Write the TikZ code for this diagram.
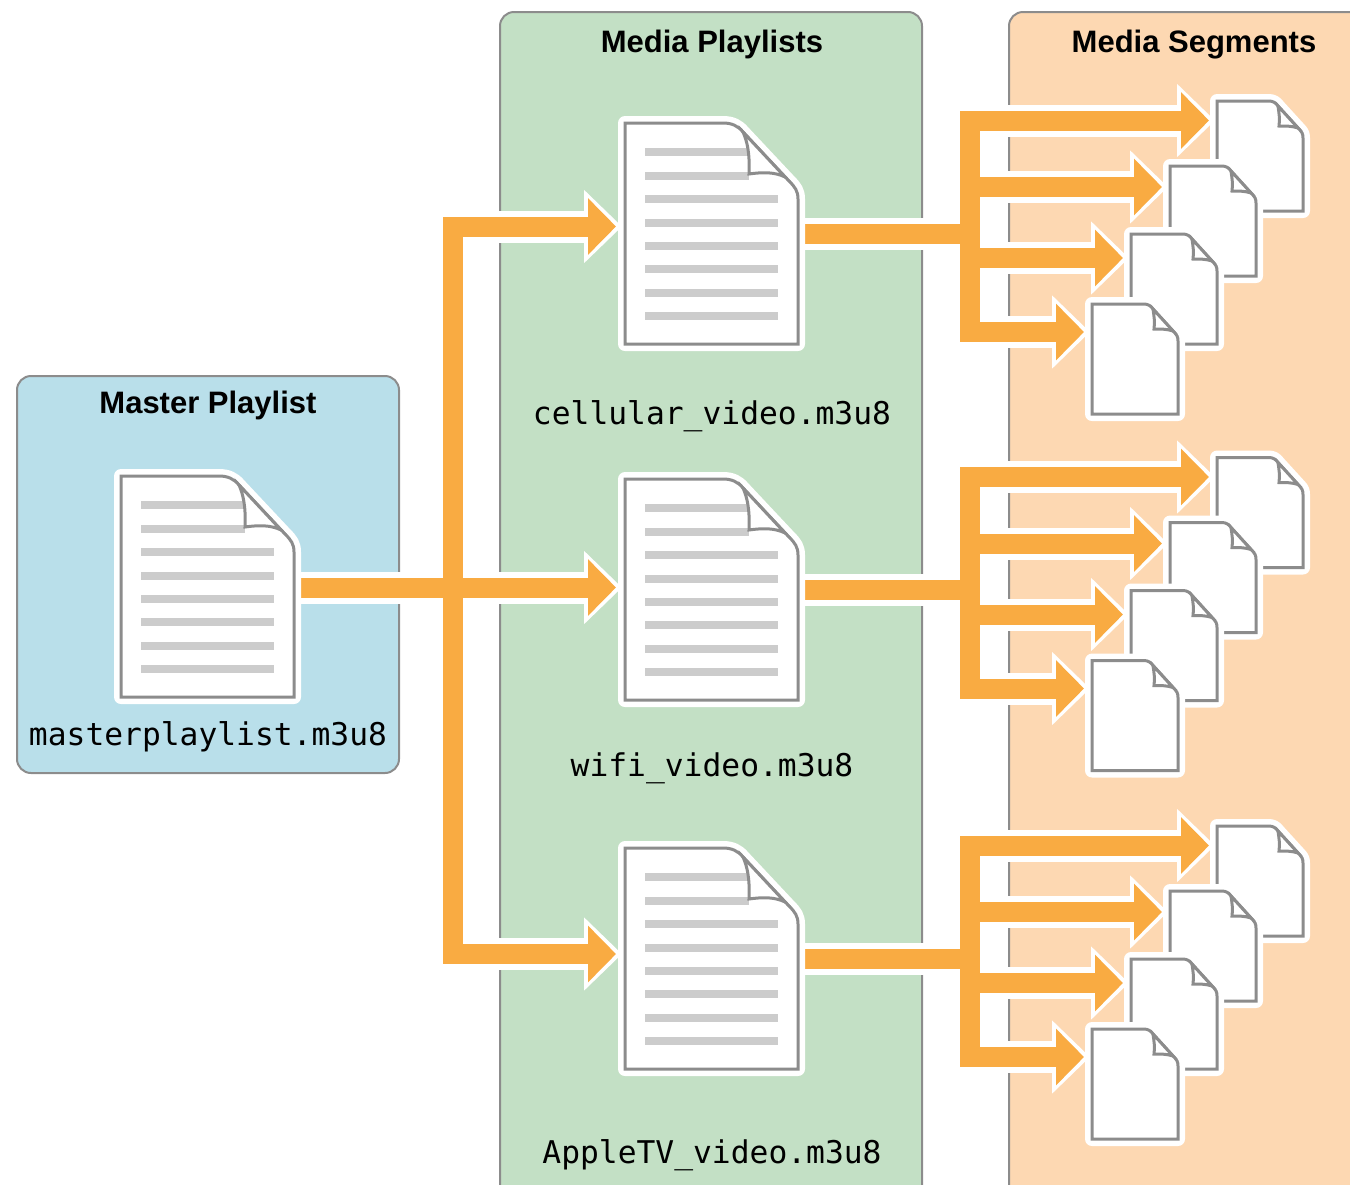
\documentclass[tikz,border=0pt]{standalone}
\usepackage{fontspec}
\setmainfont{Liberation Sans}
\setmonofont{DejaVu Sans Mono}
\usetikzlibrary{arrows.meta}

\definecolor{bluepanel}{HTML}{B9DFEA}
\definecolor{greenpanel}{HTML}{C3E0C5}
\definecolor{orangepanel}{HTML}{FDD8B2}
\definecolor{pipeorange}{HTML}{F9AB42}
\definecolor{edgegray}{HTML}{8C8C8C}
\definecolor{linegray}{HTML}{CCCCCC}

\tikzset{
	panel/.style={draw=edgegray, line width=2pt, rounded corners=14pt},
	title/.style={font=\fontsize{31}{31}\selectfont\bfseries},
	filename/.style={font=\fontsize{31.3}{31.3}\selectfont\ttfamily},
	bigdoc/.style={minimum width=173pt, minimum height=221pt, inner sep=0pt, outer sep=0pt},
	smalldoc/.style={anchor=north west, minimum width=86pt, minimum height=110pt, inner sep=0pt, outer sep=0pt},
	pipe/.style={draw=pipeorange, line width=20pt, line join=miter},
	halo/.style={draw=white, line width=32pt, line join=miter},
	pipetip/.style={pipe, -{Triangle[length=28pt,width=55pt,fill=pipeorange]}},
	halotip/.style={halo, -{Triangle[length=38pt,width=71pt,fill=white]}, shorten >=-6pt},
	sheet/.style={fill=white, draw=edgegray, line width=3pt, line join=miter},
	sheethalo/.style={fill=white, draw=white, line width=14pt, line join=round},
	textline/.style={draw=linegray, line width=8pt}
}

% outline of the big sheet, from its top left corner
\newcommand{\bigoutline}{(0,0) -- (98,0) .. controls (107,0) and (113,3) .. (118,9) -- (164,58)
	.. controls (170,64) and (173,68) .. (173,76) -- (173,221) -- (0,221) -- cycle}
\newcommand{\smalloutline}{(0,0) -- (52,0) .. controls (56,0) and (59,2) .. (61,5) -- (82,28)
	.. controls (85,31) and (86,33) .. (86,37) -- (86,110) -- (0,110) -- cycle}

\newcommand{\drawbigdoc}[1]{
	\begin{scope}[shift={(#1.north west)}]
		\path[sheethalo] \bigoutline;
		\draw[textline] (20,29) -- (124,29);
		\draw[textline] (20,52.5) -- (124,52.5);
		\draw[textline] (20,76) -- (153,76);
		\draw[textline] (20,99.5) -- (153,99.5);
		\draw[textline] (20,123) -- (153,123);
		\draw[textline] (20,146) -- (153,146);
		\draw[textline] (20,170) -- (153,170);
		\draw[textline] (20,193) -- (153,193);
		\draw[draw=edgegray, line width=3pt] \bigoutline;
		\draw[sheet] (118,9) .. controls (122,18) and (125,30) .. (124,51)
			.. controls (138,49) and (150,49) .. (160,54) -- cycle;
	\end{scope}
}
\newcommand{\drawsmalldoc}[1]{
	\begin{scope}[shift={(#1.north west)}]
		\path[sheethalo] \smalloutline;
		\draw[draw=edgegray, line width=3pt] \smalloutline;
		\draw[sheet] (61,5) .. controls (62,12) and (63,18) .. (62,25)
			.. controls (69,25) and (75,25) .. (81,27) -- cycle;
	\end{scope}
}
% #4 and #5 say where the arrow comes in, from the sheet's top left
\newcommand{\segdoc}[5]{
	\node[smalldoc] (#1) at (#2,#3) {};
	\coordinate (#1in) at (#2-#4,#3+#5);
}
\newcommand{\seggroup}[2]{
	\segdoc{#1a}{1217}{101+#2}{8}{19.5}
	\segdoc{#1b}{1170}{166+#2}{8}{21}
	\segdoc{#1c}{1131}{234+#2}{8}{24}
	\segdoc{#1d}{1092}{304+#2}{8}{28}
}
\newcommand{\segpipes}[3]{
	\draw[#3] (#1doc.east) [shorten <=7pt] -- (#2);
	\draw[#3tip] (#2) |- (#1aain);
	\draw[#3tip] (#2) |- (#1abin);
	\draw[#3tip] (#2) |- (#1acin);
	\draw[#3tip] (#2) |- (#1adin);
}
\newcommand{\allpipes}[1]{
	\draw[#1tip] (master.east |- wifiin) [shorten <=7pt] -- (wifiin);
	\draw[#1tip] (split) |- (cellularin);
	\draw[#1tip] (split) |- (appletvin);
	\segpipes{cellular}{cellularsplit}{#1}
	\segpipes{wifi}{wifisplit}{#1}
	\segpipes{appletv}{appletvsplit}{#1}
}

\begin{document}
\begin{tikzpicture}[x=1pt, y=-1pt]
	\useasboundingbox (0,0) rectangle (1350,1184);
	\clip (0,0) rectangle (1350,1184);

	\draw[panel, fill=bluepanel] (17,376) rectangle (399,773);
	\draw[panel, fill=greenpanel] (500,12) rectangle (922,1220);
	\draw[panel, fill=orangepanel] (1009,12) rectangle (1400,1220);

	\node[title] (mastertitle) at (208,405.5) {Master Playlist};
	\node[title] (mediatitle) at (712,44.5) {Media Playlists};
	\node[title] (segmenttitle) at (1194,44.5) {Media Segments};

	\node[filename] (masterfile) at (208,737) {masterplaylist.m3u8};
	\node[filename] (cellularfile) at (712,416) {cellular\_video.m3u8};
	\node[filename] (wififile) at (712,768) {wifi\_video.m3u8};
	\node[filename] (appletvfile) at (712,1155) {AppleTV\_video.m3u8};

	\node[bigdoc] (master) at (207.5,586.5) {};
	\node[bigdoc] (cellulardoc) at (711.5,233.5) {};
	\node[bigdoc] (wifidoc) at (711.5,589.5) {};
	\node[bigdoc] (appletvdoc) at (711.5,958.5) {};

	\coordinate (split) at (453,587.5);
	\coordinate (wifiin) at (616,587.5);
	\coordinate (cellularin) at (616,226.5);
	\coordinate (appletvin) at (616,954);
	\coordinate (cellularsplit) at (970,233.5);
	\coordinate (wifisplit) at (970,589.5);
	\coordinate (appletvsplit) at (970,958.5);

	\seggroup{cellulara}{0}
	\seggroup{wifia}{356.5}
	\seggroup{appletva}{725}

	\allpipes{halo}
	\allpipes{pipe}

	\drawbigdoc{master}
	\drawbigdoc{cellulardoc}
	\drawbigdoc{wifidoc}
	\drawbigdoc{appletvdoc}

	\drawsmalldoc{cellularaa}
	\drawsmalldoc{cellularab}
	\drawsmalldoc{cellularac}
	\drawsmalldoc{cellularad}
	\drawsmalldoc{wifiaa}
	\drawsmalldoc{wifiab}
	\drawsmalldoc{wifiac}
	\drawsmalldoc{wifiad}
	\drawsmalldoc{appletvaa}
	\drawsmalldoc{appletvab}
	\drawsmalldoc{appletvac}
	\drawsmalldoc{appletvad}
\end{tikzpicture}
\end{document}
